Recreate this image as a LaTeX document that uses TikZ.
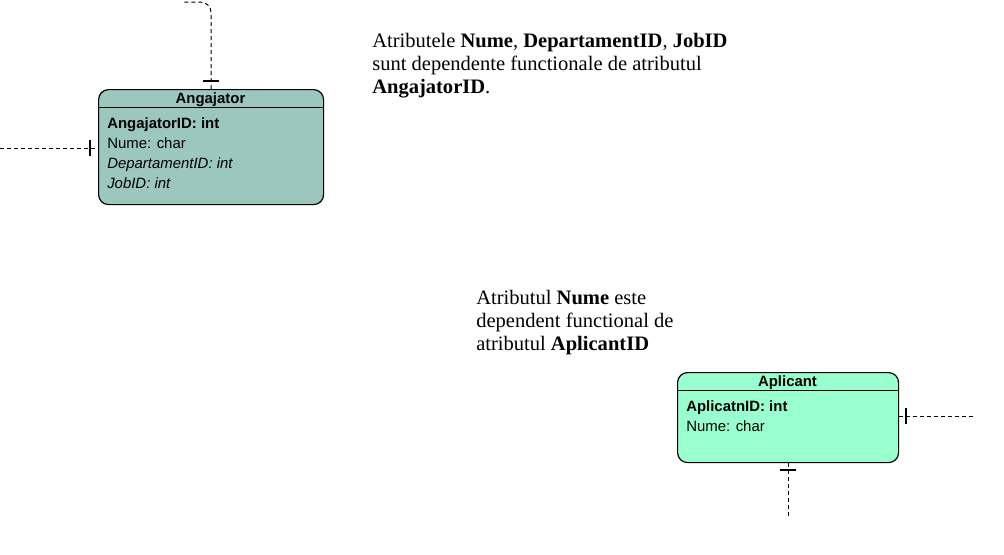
\documentclass[tikz,border=0pt]{standalone}
\usepackage{fontspec}
\setmainfont{Liberation Serif}
\setsansfont{Liberation Sans}
\usetikzlibrary{positioning}
\definecolor{angfill}{RGB}{155,199,191}
\definecolor{aplfill}{RGB}{153,255,206}
\begin{document}
\begin{tikzpicture}[
        x=0.75pt,y=-0.75pt,
        entity/.style={
            draw,rounded corners=7.5pt,
            line width=0.9pt,
            anchor=north west,inner sep=0pt,
        },
        ehead/.style={anchor=base,font=\sffamily\bfseries\fontsize{11.2}{13}\selectfont,inner sep=0pt},
        attr/.style={anchor=base west,inner sep=0pt,font=\sffamily\fontsize{11.2}{13}\selectfont},
        note/.style={anchor=north west,align=left,inner sep=0pt,
            font=\fontsize{15.4}{17.6}\selectfont},
        rel/.style={dash pattern=on 3pt off 2.25pt,line width=0.75pt},
        tick/.style={line width=0.9pt},
    ]
    \useasboundingbox (0,0) rectangle (1004,554);

    % Angajator
    \node[entity,fill=angfill,minimum width=168.75pt,minimum height=86.25pt] (ang) at (98,89) {};
    \node[ehead] (angh) at (210.5,103.5) {Angajator};
    \draw[line width=0.75pt] ([yshift=-13.5pt]ang.north west) -- ([yshift=-13.5pt]ang.north east);
    \node[attr] (ang1) at (107,128.5) {\bfseries AngajatorID: int};
    \node[attr] (ang2) at (107,148.5) {Nume: char};
    \node[attr] (ang3) at (107,168.5) {\itshape DepartamentID: int};
    \node[attr] (ang4) at (107,188.5) {\itshape JobID: int};

    % Aplicant
    \node[entity,fill=aplfill,minimum width=165.75pt,minimum height=67.5pt] (apl) at (677,372) {};
    \node[ehead] (aplh) at (787.5,386.5) {Aplicant};
    \draw[line width=0.75pt] ([yshift=-13.5pt]apl.north west) -- ([yshift=-13.5pt]apl.north east);
    \node[attr] (apl1) at (686,411.5) {\bfseries AplicatnID: int};
    \node[attr] (apl2) at (686,431.5) {Nume: char};

    % capete libere
    \coordinate (angtop) at (183,2);
    \coordinate (angleft) at (0,148);
    \coordinate (aplright) at (975,416);
    \coordinate (aplbot) at (788,518);

    \draw[rel,rounded corners=8pt] (ang.north) |- (angtop);
    \draw[tick] ([xshift=-6pt,yshift=6pt]ang.north) -- ++(16,0);
    \draw[rel] (angleft) -- (ang.west |- angleft);
    \draw[tick] (90,140) -- (90,156);
    \draw[rel] (apl.east |- aplright) -- (aplright);
    \draw[tick] (906,408) -- (906,424);
    \draw[rel] (apl.south -| aplbot) -- (aplbot);
    \draw[tick] (780,470) -- (796,470);

    % texte
    \node[note] (txt1) at (372,32.5) {Atributele \textbf{Nume}, \textbf{DepartamentID}, \textbf{JobID}\\
        sunt dependente functionale de atributul\\
        \textbf{AngajatorID}.};
    \node[note] (txt2) at (476,289.5) {Atributul \textbf{Nume} este\\
        dependent functional de\\
        atributul \textbf{AplicantID}};

\end{tikzpicture}
\end{document}
